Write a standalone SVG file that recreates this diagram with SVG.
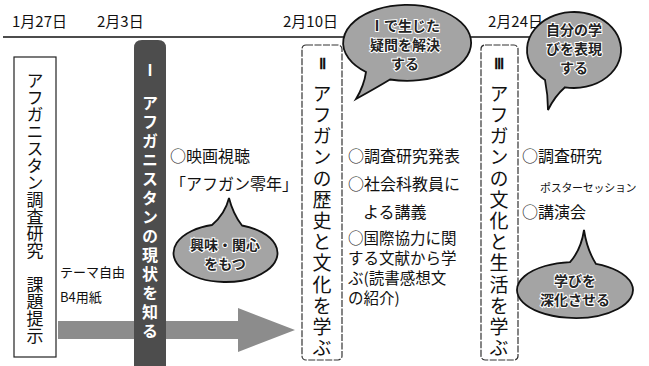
<svg xmlns="http://www.w3.org/2000/svg" width="649" height="366" viewBox="0 0 649 366">
<style>
text{font-family:"Noto Sans CJK JP","Noto Sans",sans-serif;fill:#111}
.date{font-size:15px}
.vt{writing-mode:vertical-rl;text-orientation:upright}
.box{fill:#fff;stroke:#222;stroke-width:1.2}
.dbox{fill:#fff;stroke:#333;stroke-width:1.2;stroke-dasharray:7 1.5}
.bub{fill:#a4a4a4;stroke:#111;stroke-width:1.8}
.bt{font-size:14px;font-weight:bold;fill:#222;stroke:#fff;stroke-width:2;paint-order:stroke;text-anchor:middle}
.it{font-size:16px}
.pt{font-size:15.5px}
</style>
<rect width="649" height="366" fill="#fff"/>
<g id="timeline">
<text class="date" x="12" y="27">1月27日</text>
<text class="date" x="97" y="27">2月3日</text>
<text class="date" x="283" y="27">2月10日</text>
<text class="date" x="488" y="27">2月24日</text>
<line x1="3" y1="37" x2="548" y2="37" stroke="#111" stroke-width="1.6"/>
</g>
<g id="connectors">
<path d="M58,321 H238 V308 L295,330 L238,352 V339 H58 Z" fill="#8c8c8c"/>
</g>
<g id="node-kadai">
<rect class="box" x="14" y="57" width="42" height="300"/>
<text class="vt" x="35" y="72" style="font-size:17px">アフガニスタン調査研究　課題提示</text>
<text x="60" y="277" style="font-size:13px">テーマ自由</text>
<text x="60" y="302" style="font-size:13px">B4用紙</text>
</g>
<g id="node-1">
<path d="M134,366 V48 Q134,40 142,40 H158 Q166,40 166,48 V366 Z" fill="#4d4d4d"/>
<text x="150" y="76" style="font-size:15px;fill:#fff;font-weight:bold;text-anchor:middle">Ⅰ</text>
<text class="vt" x="150" y="95" style="font-size:16px;letter-spacing:3px;fill:#fff;font-weight:bold">アフガニスタンの現状を知る</text>
<text class="it" x="170" y="162">○映画視聴</text>
<text class="it" x="170" y="190">「アフガン零年」</text>
</g>
<g id="bubble-kyomi">
<path class="bub" d="M212,225 Q225,214 229,198 Q233,214 242,225.5 A52 29 0 1 1 212 225 Z"/>
<text class="bt" x="225" y="250">興味・関心</text>
<text class="bt" x="225" y="269">をもつ</text>
</g>
<g id="node-2">
<rect class="dbox" x="302" y="45" width="40" height="315" rx="4"/>
<text x="322" y="69" style="font-size:15px;font-weight:bold;text-anchor:middle;font-family:'Liberation Serif',serif">Ⅱ</text>
<text class="vt" x="322" y="84" style="font-size:19px;letter-spacing:2.2px">アフガンの歴史と文化を学ぶ</text>
<text class="it" x="348" y="162">○調査研究発表</text>
<text class="it" x="348" y="190">○社会科教員に</text>
<text class="it" x="363" y="218">よる講義</text>
<text class="pt" x="348" y="244">○国際協力に関</text>
<text class="pt" x="348" y="264">する文献から学</text>
<text class="pt" x="348" y="284">ぶ(読書感想文</text>
<text class="pt" x="348" y="304">の紹介)</text>
</g>
<g id="bubble-gimon">
<path class="bub" d="M366,72 Q364,86 356,99 Q376,88 390,79.5 A64 38 0 1 0 366 72 Z"/>
<text class="bt" x="405" y="31">Ⅰで生じた</text>
<text class="bt" x="405" y="50">疑問を解決</text>
<text class="bt" x="405" y="69">する</text>
</g>
<g id="node-3">
<rect class="dbox" x="481" y="45" width="37" height="315" rx="4"/>
<text x="499" y="69" style="font-size:15px;font-weight:bold;text-anchor:middle;font-family:'Liberation Serif',serif">Ⅲ</text>
<text class="vt" x="499" y="84" style="font-size:19px;letter-spacing:2.2px">アフガンの文化と生活を学ぶ</text>
<text class="it" x="522" y="162">○調査研究</text>
<text x="540" y="192" style="font-size:11px;letter-spacing:-0.3px">ポスターセッション</text>
<text class="it" x="522" y="218">○講演会</text>
</g>
<g id="bubble-hyogen">
<path class="bub" d="M545,79.9 Q548,95 548,110 Q555,96 565,87.3 A47 38 0 1 0 545 79.9 Z"/>
<text class="bt" x="574" y="35">自分の学</text>
<text class="bt" x="574" y="54">びを表現</text>
<text class="bt" x="574" y="73">する</text>
</g>
<g id="bubble-shinka">
<path class="bub" d="M570,262.1 Q581,250 584,230 Q587,250 596,263.9 A58 28 0 1 1 570 262.1 Z"/>
<text class="bt" x="575" y="286">学びを</text>
<text class="bt" x="575" y="305">深化させる</text>
</g>
</svg>
